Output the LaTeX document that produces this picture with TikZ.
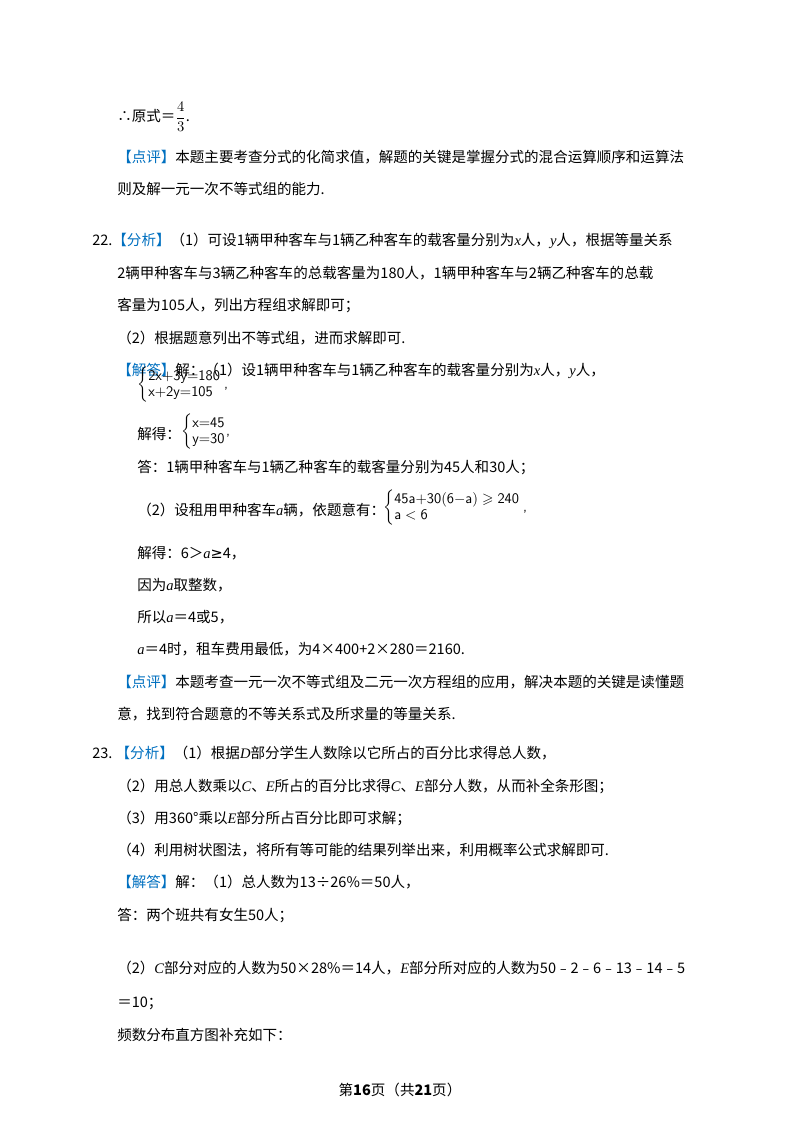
\documentclass[tikz,border=0pt]{standalone}
\usepackage{amsmath,amssymb}
\usepackage{fontspec}
\setmainfont{Liberation Serif}
\newfontfamily\cjk{Noto Sans CJK SC}
\newfontfamily\symf{DejaVu Sans}
\definecolor{pblue}{RGB}{0,112,192}
\newcommand{\vr}[1]{{\rmfamily\itshape #1}}
\newcommand{\tg}[1]{\textcolor{pblue}{【#1】}}
\begin{document}
\begin{tikzpicture}[x=0.75pt,y=-0.75pt,
  ln/.style={anchor=west,inner sep=0pt,font=\cjk\fontsize{10.9pt}{12pt}\selectfont},
  sysf/.style={anchor=west,inner sep=0pt,font=\sffamily\fontsize{11pt}{12pt}\selectfont}]
\useasboundingbox[fill=white] (0,0) rectangle (800,1132);
\node[ln] (l1) at (117,117) {∴原式＝$\dfrac{4}{3}$.};
\node[ln] (l2) at (117,157) {\tg{点评}本题主要考查分式的化简求值，解题的关键是掌握分式的混合运算顺序和运算法};
\node[ln] (l3) at (117,189) {则及解一元一次不等式组的能力.};
\node[ln] (l4) at (92,241) {22.\tg{分析}（1）可设1辆甲种客车与1辆乙种客车的载客量分别为\vr{x}人，\vr{y}人，根据等量关系};
\node[ln] (l5) at (117,273) {2辆甲种客车与3辆乙种客车的总载客量为180人，1辆甲种客车与2辆乙种客车的总载};
\node[ln] (l6) at (117,305) {客量为105人，列出方程组求解即可；};
\node[ln] (l7) at (117,338) {（2）根据题意列出不等式组，进而求解即可.};
\node[ln] (l8) at (117,343) {};
\node[ln] (l8) at (117,371) {\tg{解答}解：（1）设1辆甲种客车与1辆乙种客车的载客量分别为\vr{x}人，\vr{y}人，};
\node[sysf] (s1) at (137,385) {$\left\{\begin{array}{@{}l@{}}\mathsf{2x{+}3y{=}180}\\ \mathsf{x{+}2y{=}105}\end{array}\right.$\,,};
\node[ln] (l9) at (137,434) {解得：};
\node[sysf] (s2) at (181,432) {$\left\{\begin{array}{@{}l@{}}\mathsf{x{=}45}\\ \mathsf{y{=}30}\end{array}\right.$,};
\node[ln] (l10) at (137,467) {答：1辆甲种客车与1辆乙种客车的载客量分别为45人和30人；};
\node[ln] (l11) at (137,510) {（2）设租用甲种客车\vr{a}辆，依题意有：};
\node[sysf] (s3) at (383,508) {$\left\{\begin{array}{@{}l@{}}\mathsf{45a{+}30(6{-}a)}\geqslant\mathsf{240}\\ \mathsf{a}<\mathsf{6}\end{array}\right.$\,,};
\node[ln] (l12) at (137,553) {解得：6＞\vr{a}{\symf ≥}4，};
\node[ln] (l13) at (137,585) {因为\vr{a}取整数，};
\node[ln] (l14) at (137,617) {所以\vr{a}＝4或5，};
\node[ln] (l15) at (137,649) {\vr{a}＝4时，租车费用最低，为4×400+2×280＝2160.};
\node[ln] (l16) at (117,682) {\tg{点评}本题考查一元一次不等式组及二元一次方程组的应用，解决本题的关键是读懂题};
\node[ln] (l17) at (117,714) {意，找到符合题意的不等关系式及所求量的等量关系.};
\node[ln] (l18) at (92,753) {23.\ \tg{分析}（1）根据\vr{D}部分学生人数除以它所占的百分比求得总人数，};
\node[ln] (l19) at (117,786) {（2）用总人数乘以\vr{C}、\vr{E}所占的百分比求得\vr{C}、\vr{E}部分人数，从而补全条形图；};
\node[ln] (l20) at (117,818) {（3）用360°乘以\vr{E}部分所占百分比即可求解；};
\node[ln] (l21) at (117,850) {（4）利用树状图法，将所有等可能的结果列举出来，利用概率公式求解即可.};
\node[ln] (l22) at (117,882) {\tg{解答}解：（1）总人数为13÷26\%＝50人，};
\node[ln] (l23) at (117,915) {答：两个班共有女生50人；};
\node[ln] (l24) at (117,968) {（2）\vr{C}部分对应的人数为50×28\%＝14人，\vr{E}部分所对应的人数为50﹣2﹣6﹣13﹣14﹣5};
\node[ln] (l25) at (117,1003) {＝10；};
\node[ln] (l26) at (117,1035) {频数分布直方图补充如下：};
\node[ln,anchor=center] (pg) at (400,1090) {第\textbf{16}页（共\textbf{21}页）};
\end{tikzpicture}
\end{document}
